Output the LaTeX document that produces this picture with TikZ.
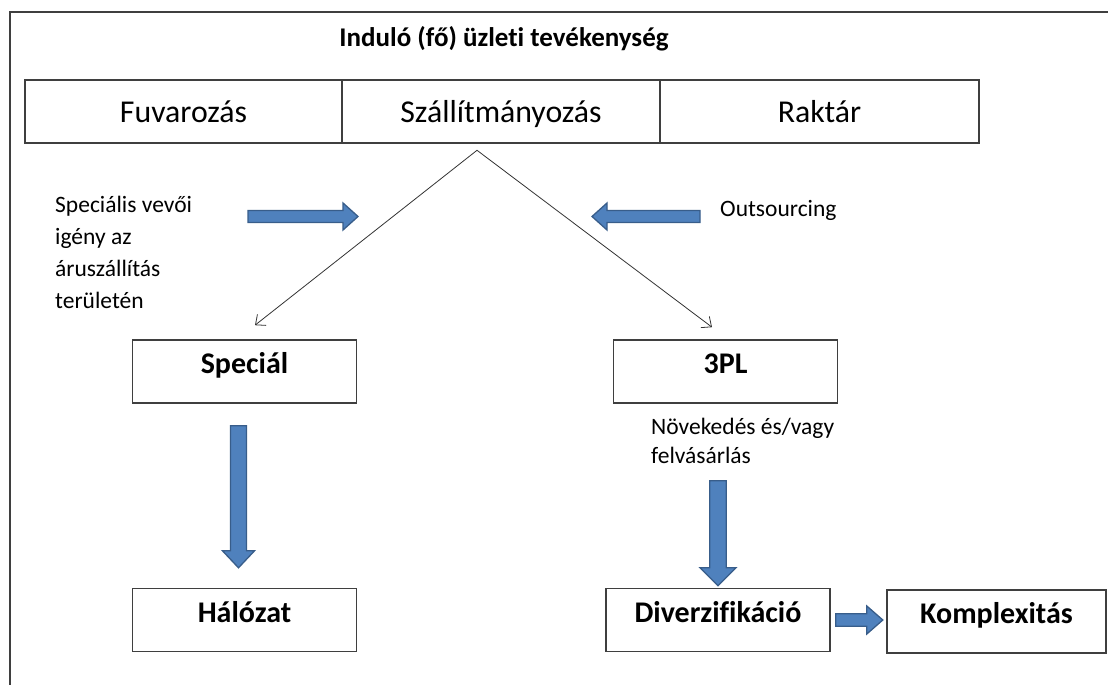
\documentclass[tikz,border=0pt]{standalone}
\usepackage{fontspec}
\setmainfont{Carlito}[Ligatures=NoCommon]
\usetikzlibrary{calc,arrows.meta}

\definecolor{arrowfill}{HTML}{4F81BD}
\definecolor{arrowline}{HTML}{385D8A}
\definecolor{frameline}{HTML}{3F3F3F}

\tikzset{
  topbox/.style={draw=frameline, line width=1.6pt, minimum height=63pt, inner sep=0pt,
    font=\fontsize{31.8}{38}\selectfont, text height=24pt, text depth=2pt},
  stagebox/.style={draw=frameline, line width=1.6pt, minimum width=224pt, minimum height=63pt,
    inner sep=0pt, font=\bfseries\fontsize{30}{36}\selectfont, text height=19pt, text depth=15pt},
  note/.style={inner sep=0pt, align=left, font=\fontsize{23.5}{29}\selectfont},
  thinarrow/.style={draw=black!80, line width=0.8pt, -{Straight Barb[length=8pt,width=14pt]}},
  pics/fatarrow/.style n args={4}{code={
    \filldraw[draw=arrowline, fill=arrowfill, line width=1.3pt]
      (0,-#2) -- ({#1-#4},-#2) -- ({#1-#4},-#3) -- (#1,0)
      -- ({#1-#4},#3) -- ({#1-#4},#2) -- (0,#2) -- cycle;
  }}
}

\begin{document}
\begin{tikzpicture}[x=1pt, y=-1pt]
  \useasboundingbox (0,0) rectangle (1108,685);
  % Frame, cut off at the right and at the bottom
  \draw[frameline, line width=1.5pt] (10,685) -- (10,12) -- (1108,12);

  % Title and the three starting businesses
  \node[anchor=base, font=\bfseries\fontsize{27}{32}\selectfont] (title) at (504,47) {Induló (fő) üzleti tevékenység};
  \node[topbox, minimum width=317pt] (fuvar) at (183.5,111.5) {Fuvarozás};
  \node[topbox, minimum width=318pt] (szall) at (501,111.5) {Szállítmányozás};
  \node[topbox, minimum width=319pt] (raktar) at (819.5,111.5) {Raktár};

  % Stages
  \node[stagebox] (special) at (244.5,371.5) {Speciál};
  \node[stagebox] (tpl) at (725.5,371.5) {3PL};
  \node[stagebox] (halozat) at (244.5,620) {Hálózat};
  \node[stagebox] (divers) at (718,620) {Diverzifikáció};
  \node[stagebox, minimum width=219pt] (komplex) at (996.5,621.5) {Komplexitás};

  % Notes
  \node[note, anchor=north west, font=\fontsize{23.5}{32}\selectfont] (igeny) at (55,196) {Speciális vevői\\igény az\\áruszállítás\\területén};
  \node[note, anchor=base west] (outsrc) at (720,216) {Outsourcing};
  \node[note, anchor=north west] (novekedes) at (651,418) {Növekedés és/vagy\\felvásárlás};

  % Branching lines
  \coordinate (apex) at ($(szall.south)+(-24,6.5)$);
  \draw[thinarrow] (apex) -- ($(special.north)+(10.5,-14)$);
  \draw[thinarrow] (apex) -- ($(tpl.north)+(-13.5,-12)$);

  % Block arrows
  \pic at (248,216.5) {fatarrow={110}{6}{13.5}{15}};
  \pic[rotate=180] at (700,216.5) {fatarrow={108}{6}{13.5}{15}};
  \pic[rotate=-90] at ($(special.south)+(-6,22)$) {fatarrow={142}{8}{16}{17}};
  \pic[rotate=-90] at ($(tpl.south)+(-7.5,77)$) {fatarrow={105}{8.3}{18}{18}};
  \pic at ($(divers.east)+(5,0)$) {fatarrow={47}{6.3}{14}{16}};
\end{tikzpicture}
\end{document}
